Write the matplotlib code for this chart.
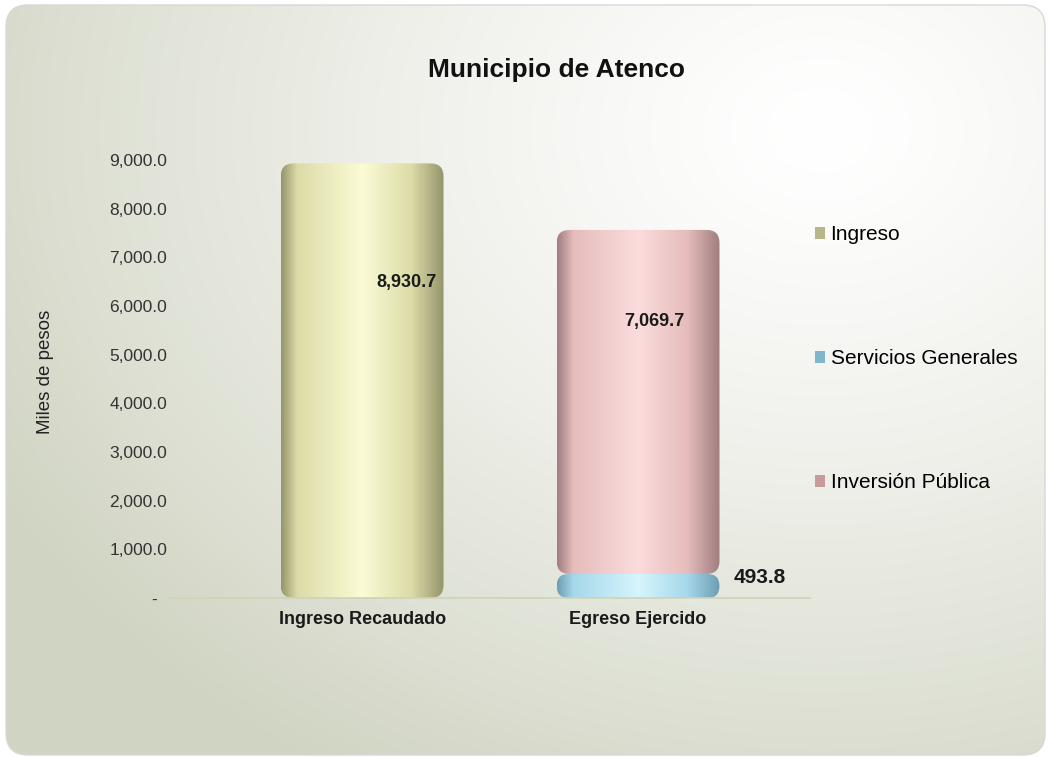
import numpy as np
import matplotlib.pyplot as plt
from matplotlib.patches import FancyBboxPatch, Patch
from matplotlib.colors import LinearSegmentedColormap, to_rgb

plt.rcParams['font.family'] = ['Liberation Sans', 'DejaVu Sans']

# datos
categorias = ['Ingreso Recaudado', 'Egreso Ejercido']
ingreso = [8930.7, 0.0]
servicios = [0.0, 493.8]
inversion = [0.0, 7069.7]
ticks_y = [0, 1000, 2000, 3000, 4000, 5000, 6000, 7000, 8000, 9000]

W, H = 1050, 757
fig = plt.figure(figsize=(W / 100, H / 100), dpi=100)

# fondo con degradado
bg = fig.add_axes([0, 0, 1, 1])
bg.set_xlim(0, W)
bg.set_ylim(H, 0)
bg.axis('off')
yy, xx = np.mgrid[0:H, 0:W]
d = np.sqrt(((xx - 820) / 1.0) ** 2 + ((yy - 130) * 1.25) ** 2) / 950
t = np.clip(d, 0, 1) ** 1.3
c0 = np.array(to_rgb('#ffffff'))
c1 = np.array(to_rgb('#d0d4c2'))
img = c0[None, None, :] * (1 - t[..., None]) + c1[None, None, :] * t[..., None]
marco = FancyBboxPatch((6, 5), 1039, 750, boxstyle='round,pad=0,rounding_size=22',
                       fc='none', ec='#d8d8d8', lw=1.0, zorder=3)
bg.add_patch(marco)
im = bg.imshow(img, extent=[0, W, H, 0], aspect='auto', zorder=1)
im.set_clip_path(marco)

# ejes
ax = fig.add_axes([170 / W, 159 / H, 640 / W, 438 / H])
ax.patch.set_alpha(0)
xlim = (-0.696, 1.623)
ylim = (0, 9000)
x = np.arange(len(categorias))
ancho = 0.59

b_ing = ax.bar(x, ingreso, ancho, alpha=0)
b_serv = ax.bar(x, servicios, ancho, alpha=0)
b_inv = ax.bar(x, inversion, ancho, bottom=servicios, alpha=0)

def mapa(oscuro, medio, claro):
    return LinearSegmentedColormap.from_list('c', [(0, oscuro), (0.1, medio), (0.5, claro),
                                                    (0.8, medio), (1.0, oscuro)])

mapas = [mapa('#95956c', '#dcdca8', '#fbfbd6'),
         mapa('#6d9db2', '#a6d8ea', '#d6f5fc'),
         mapa('#a07e80', '#e6bcbc', '#fbdcdc')]

px_x = (xlim[1] - xlim[0]) / 640
px_y = (ylim[1] - ylim[0]) / 438
aspecto = px_y / px_x
grad = np.linspace(0, 1, 256)[None, :]
for barras, cmap in zip([b_ing, b_serv, b_inv], mapas):
    for r in barras:
        h = r.get_height()
        if h <= 0:
            continue
        x0, y0, w = r.get_x(), r.get_y(), r.get_width()
        rad = min(13 * px_x, h / aspecto / 2)
        p = FancyBboxPatch((x0, y0), w, h, boxstyle=f'round,pad=0,rounding_size={rad}',
                           mutation_aspect=aspecto, fc='none', ec='none')
        ax.add_patch(p)
        g = ax.imshow(grad, cmap=cmap, extent=[x0, x0 + w, y0, y0 + h],
                      aspect='auto', zorder=2)
        g.set_clip_path(p)

# etiquetas de valor
desplaz = [0.16, 0.06]
for r in b_ing:
    if r.get_height() > 0:
        ax.text(r.get_x() + r.get_width() / 2 + desplaz[0], r.get_y() + 0.725 * r.get_height(),
                f'{r.get_height():,.1f}', ha='center', va='center', fontsize=13,
                fontweight='bold', color='#1a1a1a', zorder=5)
for r in b_inv:
    if r.get_height() > 0:
        ax.text(r.get_x() + r.get_width() / 2 + desplaz[1], r.get_y() + 0.735 * r.get_height(),
                f'{r.get_height():,.1f}', ha='center', va='center', fontsize=13,
                fontweight='bold', color='#1a1a1a', zorder=5)
for r in b_serv:
    if r.get_height() > 0:
        ax.text(r.get_x() + r.get_width() + 0.05, r.get_y() + 0.85 * r.get_height(),
                f'{r.get_height():,.1f}', ha='left', va='center', fontsize=15,
                fontweight='bold', color='#1a1a1a', zorder=5)

ax.set_xlim(*xlim)
ax.set_ylim(*ylim)
ax.set_autoscale_on(False)
ax.set_yticks(ticks_y)
ax.set_yticklabels(['-  ' if v == 0 else f'{v:,.1f}' for v in ticks_y],
                   fontsize=12.5, color='#333333')
ax.set_xticks(x)
ax.set_xticklabels(categorias, fontsize=13, fontweight='bold', color='#1a1a1a')
ax.tick_params(axis='y', length=0, pad=2)
ax.tick_params(axis='x', length=0, pad=9)
for s in ['top', 'right', 'left']:
    ax.spines[s].set_visible(False)
ax.spines['bottom'].set_color('#cfd3b8')
ax.spines['bottom'].set_linewidth(1.2)

fig.text(45 / W, 1 - 372 / H, 'Miles de pesos', rotation=90, ha='center', va='center',
         fontsize=13.5, color='#222222')
fig.text(557 / W, 1 - 70 / H, 'Municipio de Atenco', ha='center', va='center',
         fontsize=19, fontweight='bold', color='#111111')

manejadores = [Patch(facecolor='#b7b78a', label='Ingreso'),
               Patch(facecolor='#7fb6cc', label='Servicios Generales'),
               Patch(facecolor='#c89a9c', label='Inversión Pública')]
fig.legend(handles=manejadores, loc='upper left', bbox_to_anchor=(815 / W, 1 - 225 / H),
           frameon=False, fontsize=15, handlelength=0.5, handleheight=0.5,
           handletextpad=0.25, labelspacing=5.05, borderpad=0, borderaxespad=0)

fig.savefig('out.png', dpi=100)
